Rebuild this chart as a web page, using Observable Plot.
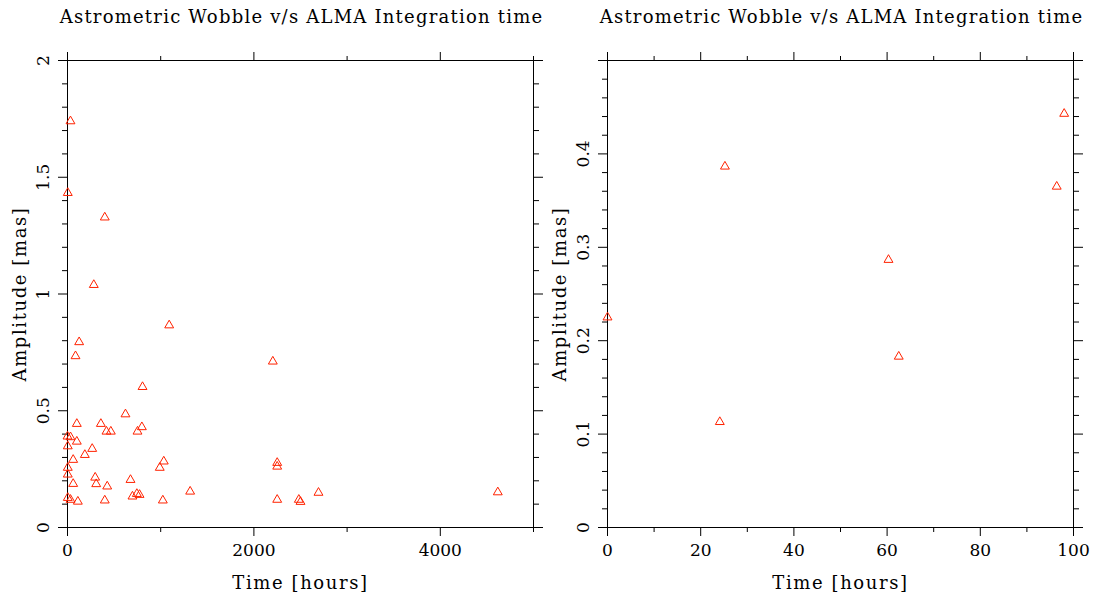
<!DOCTYPE html>
<html>
<head>
<meta charset="utf-8">
<script src="https://cdn.jsdelivr.net/npm/d3@7"></script>
<script src="https://cdn.jsdelivr.net/npm/@observablehq/plot@0.6"></script>
<style>
  body { margin: 0; background: #fff; }
  #wrap { display: flex; width: 1097px; height: 597px; }
  svg { font-family: "DejaVu Serif", serif; }
</style>
</head>
<body>
<div id="wrap"></div>
<script>
const titleText = "Astrometric Wobble v/s ALMA Integration time";
const xLabel = "Time [hours]";
const yLabel = "Amplitude [mas]";

// Left panel data
const leftTime = [282, 1091, 125, 86, 805, 622, 100, 358, 798, 418, 465, 751, 0, 32, 100, 3, 265, 186, 61, 1033, 990, 3, 3, 297, 676, 61, 308, 426, 1316, 3, 32, 697, 744, 773, 111, 400, 1023, 32, 3, 400, 2203, 2250, 2250, 2250, 2482, 2500, 2693, 4617];
const leftAmp  = [1.039, 0.866, 0.794, 0.734, 0.602, 0.485, 0.444, 0.444, 0.430, 0.411, 0.411, 0.411, 0.390, 0.387, 0.368, 0.348, 0.337, 0.311, 0.290, 0.283, 0.256, 0.256, 0.227, 0.214, 0.204, 0.187, 0.186, 0.176, 0.154, 0.127, 0.119, 0.133, 0.144, 0.140, 0.111, 0.116, 0.116, 1.740, 1.433, 1.328, 0.711, 0.277, 0.261, 0.119, 0.119, 0.110, 0.149, 0.151];

// Right panel data
const rightTime = [98.0, 25.2, 96.4, 60.3, 0, 62.5, 24.1];
const rightAmp  = [0.443, 0.3865, 0.365, 0.2866, 0.225, 0.183, 0.113];

// Tick definitions
const leftXMajor = [0, 2000, 4000];
const leftXMinor = [1000, 3000, 5000];
const leftXLabels = ["0", "2000", "4000"];
const leftYMajor = [0, 0.5, 1, 1.5, 2];
const leftYMinor = [0.1, 0.2, 0.3, 0.4, 0.6, 0.7, 0.8, 0.9, 1.1, 1.2, 1.3, 1.4, 1.6, 1.7, 1.8, 1.9];
const leftYLabels = ["0", "0.5", "1", "1.5", "2"];

const rightXMajor = [0, 20, 40, 60, 80, 100];
const rightXMinor = [10, 30, 50, 70, 90];
const rightXLabels = ["0", "20", "40", "60", "80", "100"];
const rightYMajor = [0, 0.1, 0.2, 0.3, 0.4, 0.5];
const rightYMinor = [0.02, 0.04, 0.06, 0.08, 0.12, 0.14, 0.16, 0.18, 0.22, 0.24, 0.26, 0.28, 0.32, 0.34, 0.36, 0.38, 0.42, 0.44, 0.46, 0.48];
const rightYLabels = ["0", "0.1", "0.2", "0.3", "0.4"];

const red = "#ff2200";
const FS = 17;

function panel({width, marginLeft, marginRight, xDomain, yDomain, times, amps,
                xMajor, xMinor, xLabels, yMajor, yMinor, yLabels}) {
  const pts = times.map((t, i) => ({t, a: amps[i]}));
  const noText = () => "";
  const axStyle = {stroke: "black", strokeWidth: 1, strokeOpacity: 1};
  const svg = Plot.plot({
    width, height: 597,
    marginLeft, marginRight, marginTop: 60, marginBottom: 70,
    x: {domain: xDomain},
    y: {domain: yDomain},
    style: {fontFamily: "DejaVu Serif, serif", fontSize: FS + "px", background: "white", overflow: "visible"},
    marks: [
      Plot.frame({stroke: "black", strokeWidth: 1}),
      Plot.axisX({anchor: "bottom", ticks: xMajor, tickSize: 9, tickFormat: noText, label: null, ...axStyle}),
      Plot.axisX({anchor: "bottom", ticks: xMinor, tickSize: 5, tickFormat: noText, label: null, ...axStyle}),
      Plot.axisX({anchor: "top", ticks: xMajor, tickSize: 9, tickFormat: noText, label: null, ...axStyle}),
      Plot.axisX({anchor: "top", ticks: xMinor, tickSize: 5, tickFormat: noText, label: null, ...axStyle}),
      Plot.axisY({anchor: "left", ticks: yMajor, tickSize: 9, tickFormat: noText, label: null, ...axStyle}),
      Plot.axisY({anchor: "left", ticks: yMinor, tickSize: 5, tickFormat: noText, label: null, ...axStyle}),
      Plot.axisY({anchor: "right", ticks: yMajor, tickSize: 9, tickFormat: noText, label: null, ...axStyle}),
      Plot.axisY({anchor: "right", ticks: yMinor, tickSize: 5, tickFormat: noText, label: null, ...axStyle}),
      Plot.text(xLabels, {x: (d, i) => xMajor[i], text: d => d, frameAnchor: "bottom", dy: 23,
        lineAnchor: "middle", textAnchor: "middle", fontSize: FS, fill: "black"}),
      Plot.text(yLabels, {y: (d, i) => yMajor[i], text: d => d, frameAnchor: "left", dx: -24,
        rotate: -90, lineAnchor: "middle", textAnchor: "middle", fontSize: FS, fill: "black"}),
      Plot.text([xLabel], {frameAnchor: "bottom", dy: 56, lineAnchor: "middle", textAnchor: "middle", fontSize: FS + 1, fill: "black"}),
      Plot.text([yLabel], {frameAnchor: "left", dx: -47, rotate: -90, lineAnchor: "middle", textAnchor: "middle", fontSize: FS + 1, fill: "black"}),
      Plot.text([titleText], {frameAnchor: "top", dy: -43, dx: 1, lineAnchor: "middle", textAnchor: "middle", fontSize: FS + 1, fill: "black"}),
      Plot.dot(pts, {x: "t", y: "a", symbol: "triangle", r: 3.3, stroke: red, strokeWidth: 1, fill: "none"})
    ]
  });
  d3.select(svg).selectAll("text").each(function () {
    const t = this.textContent;
    if (t === titleText) this.setAttribute("letter-spacing", "1.22px");
    else if (t === xLabel || t === yLabel) this.setAttribute("letter-spacing", "1.6px");
  });
  return svg;
}

const wrap = document.getElementById("wrap");
wrap.appendChild(panel({
  width: 548, marginLeft: 67, marginRight: 15,
  xDomain: [0, 5000], yDomain: [0, 2], times: leftTime, amps: leftAmp,
  xMajor: leftXMajor, xMinor: leftXMinor, xLabels: leftXLabels,
  yMajor: leftYMajor, yMinor: leftYMinor, yLabels: leftYLabels
}));
wrap.appendChild(panel({
  width: 549, marginLeft: 59, marginRight: 24,
  xDomain: [0, 100], yDomain: [0, 0.5], times: rightTime, amps: rightAmp,
  xMajor: rightXMajor, xMinor: rightXMinor, xLabels: rightXLabels,
  yMajor: rightYMajor, yMinor: rightYMinor, yLabels: rightYLabels
}));
</script>
</body>
</html>
